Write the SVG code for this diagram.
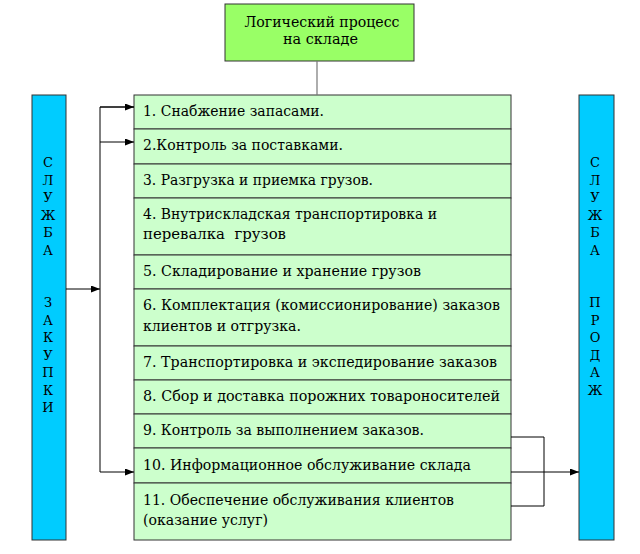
<svg xmlns="http://www.w3.org/2000/svg" width="640" height="554" viewBox="0 0 640 554">
<style>
.t{font-size:14px;fill:#000}
.v{font-size:13px;fill:#000;text-anchor:middle}
.row{fill:#CCFFCC;stroke:#333;stroke-width:1}
.bar{fill:#00CCFF;stroke:#333;stroke-width:1}
.c{fill:none;stroke:#000;stroke-width:1}
</style>
<defs>
<marker id="ah" markerWidth="9" markerHeight="7" refX="9" refY="3.5" orient="auto" markerUnits="userSpaceOnUse">
<path d="M0,0 L9,3.5 L0,7 z" fill="#000"/>
</marker>
</defs>
<rect width="640" height="554" fill="#fff"/>
<g font-family="DejaVu Serif, Liberation Serif, serif">
<g id="top">
<rect x="225" y="4" width="189" height="57" fill="#99FF66" stroke="#333"/>
<text class="t" x="322" y="27" text-anchor="middle" textLength="155" lengthAdjust="spacingAndGlyphs">Логический процесс</text>
<text class="t" x="320.5" y="44" text-anchor="middle" textLength="75" lengthAdjust="spacingAndGlyphs">на складе</text>
</g>
<g id="left-bar">
<rect class="bar" x="32" y="95" width="34" height="445"/>
<text class="v" x="48"><tspan x="48" y="167">С</tspan><tspan x="48" y="184.5">Л</tspan><tspan x="48" y="202">У</tspan><tspan x="48" y="219.5">Ж</tspan><tspan x="48" y="237">Б</tspan><tspan x="48" y="254.5">А</tspan><tspan x="48" y="307">З</tspan><tspan x="48" y="324.5">А</tspan><tspan x="48" y="342">К</tspan><tspan x="48" y="359.5">У</tspan><tspan x="48" y="377">П</tspan><tspan x="48" y="394.5">К</tspan><tspan x="48" y="412">И</tspan></text>
</g>
<g id="right-bar">
<rect class="bar" x="579" y="95" width="35" height="445"/>
<text class="v" x="595"><tspan x="595" y="167">С</tspan><tspan x="595" y="184.5">Л</tspan><tspan x="595" y="202">У</tspan><tspan x="595" y="219.5">Ж</tspan><tspan x="595" y="237">Б</tspan><tspan x="595" y="254.5">А</tspan><tspan x="595" y="307">П</tspan><tspan x="595" y="324.5">Р</tspan><tspan x="595" y="342">О</tspan><tspan x="595" y="359.5">Д</tspan><tspan x="595" y="377">А</tspan><tspan x="595" y="394.5">Ж</tspan></text>
</g>
<g id="r1"><rect class="row" x="134" y="95" width="377" height="34"/><text class="t" x="143" y="116" textLength="181" lengthAdjust="spacingAndGlyphs">1. Снабжение запасами.</text></g>
<g id="r2"><rect class="row" x="134" y="129" width="377" height="35"/><text class="t" x="143" y="150" textLength="200" lengthAdjust="spacingAndGlyphs">2.Контроль за поставками.</text></g>
<g id="r3"><rect class="row" x="134" y="164" width="377" height="34"/><text class="t" x="143" y="184.5" textLength="230" lengthAdjust="spacingAndGlyphs">3. Разгрузка и приемка грузов.</text></g>
<g id="r4"><rect class="row" x="134" y="198" width="377" height="57"/><text class="t" x="143" y="218.5" textLength="294" lengthAdjust="spacingAndGlyphs">4. Внутрискладская транспортировка и</text><text class="t" x="143" y="238.5" textLength="143" lengthAdjust="spacingAndGlyphs" xml:space="preserve">перевалка  грузов</text></g>
<g id="r5"><rect class="row" x="134" y="255" width="377" height="34"/><text class="t" x="143" y="275.5" textLength="278" lengthAdjust="spacingAndGlyphs">5. Складирование и хранение грузов</text></g>
<g id="r6"><rect class="row" x="134" y="289" width="377" height="57"/><text class="t" x="143" y="310" textLength="357" lengthAdjust="spacingAndGlyphs">6. Комплектация (комиссионирование) заказов</text><text class="t" x="143" y="330.5" textLength="158" lengthAdjust="spacingAndGlyphs">клиентов и отгрузка.</text></g>
<g id="r7"><rect class="row" x="134" y="346" width="377" height="34"/><text class="t" x="143" y="366.5" textLength="354" lengthAdjust="spacingAndGlyphs">7. Транспортировка и экспедирование заказов</text></g>
<g id="r8"><rect class="row" x="134" y="380" width="377" height="34"/><text class="t" x="143" y="400.5" textLength="357" lengthAdjust="spacingAndGlyphs">8. Сбор и доставка порожних товароносителей</text></g>
<g id="r9"><rect class="row" x="134" y="414" width="377" height="34"/><text class="t" x="143" y="435" textLength="281" lengthAdjust="spacingAndGlyphs">9. Контроль за выполнением заказов.</text></g>
<g id="r10"><rect class="row" x="134" y="448" width="377" height="35"/><text class="t" x="143" y="470" textLength="328" lengthAdjust="spacingAndGlyphs">10. Информационное обслуживание склада</text></g>
<g id="r11"><rect class="row" x="134" y="483" width="377" height="57"/><text class="t" x="143" y="504.5" textLength="311" lengthAdjust="spacingAndGlyphs">11. Обеспечение обслуживания клиентов</text><text class="t" x="143" y="525" textLength="125" lengthAdjust="spacingAndGlyphs">(оказание услуг)</text></g>
</g>
<g id="connectors">
<line x1="317" y1="61" x2="317" y2="95" stroke="#777" stroke-width="1.2"/>
<line class="c" x1="66" y1="289" x2="100" y2="289" marker-end="url(#ah)"/>
<polyline class="c" points="134,107 100,107 100,472 134,472" marker-end="url(#ah)"/>
<line class="c" x1="100" y1="107" x2="134" y2="107" marker-end="url(#ah)"/>
<line class="c" x1="100" y1="142" x2="134" y2="142" marker-end="url(#ah)"/>
<polyline class="c" points="511,437 544,437 544,506 511,506" stroke="#333"/>
<line class="c" x1="511" y1="472" x2="579" y2="472" marker-end="url(#ah)"/>
</g>
</svg>
